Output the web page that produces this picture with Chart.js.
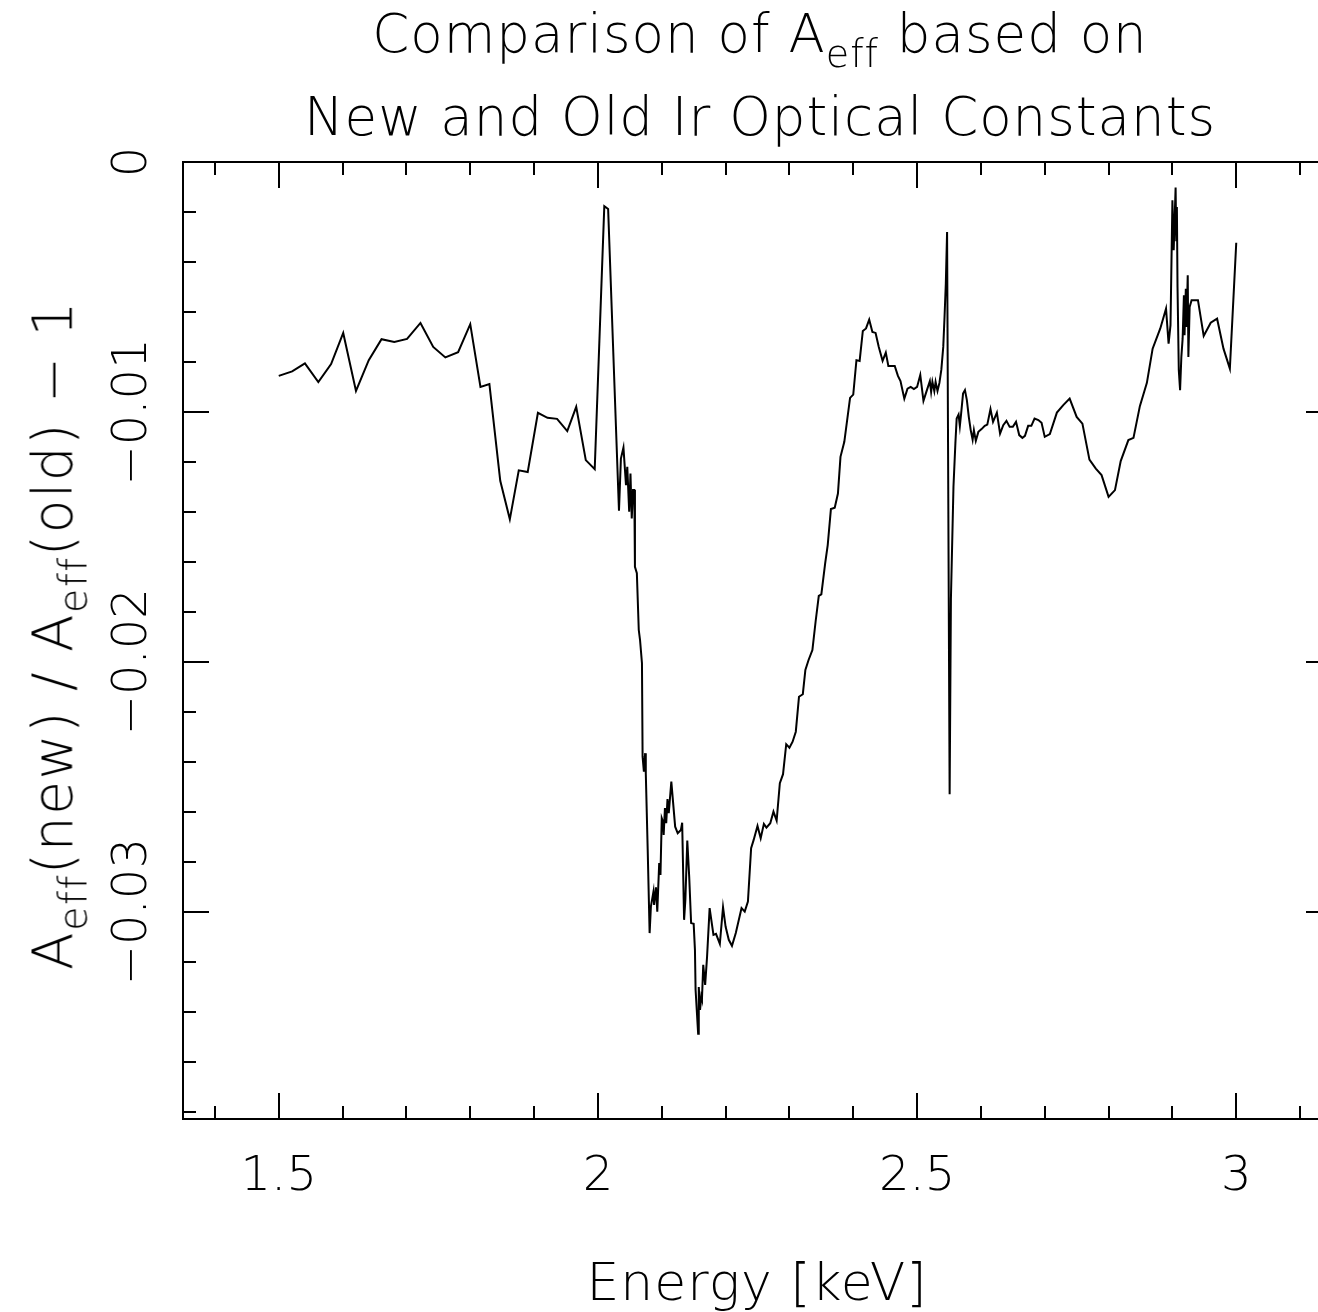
<!DOCTYPE html>
<html>
<head>
<meta charset="utf-8">
<script src="https://cdn.jsdelivr.net/npm/chart.js@4.4.1/dist/chart.umd.min.js"></script>
<style>
  html, body { margin: 0; padding: 0; background: #fff; }
  body { width: 1318px; height: 1312px; overflow: hidden; position: relative;
         font-family: "DejaVu Sans", sans-serif; font-weight: 200; color: #000; }
  #wrap { position: absolute; left: 0; top: 0; width: 1318px; height: 1312px; overflow: hidden; }
  .txt { position: absolute; white-space: nowrap; line-height: 1; }
  .txt sub { font-size: 72%; vertical-align: baseline; position: relative; top: 0.38em; }
  #title1, #title2 { left: 760px; transform: translateX(-50%); font-size: 53px; letter-spacing: 1px; }
  #title1 { top: 7px; }
  #title2 { top: 90px; }
  #xtitle { left: 757px; top: 1256px; transform: translateX(-50%); font-size: 52px; letter-spacing: 1px; }
  #ytitle { left: 53px; top: 635px; transform: translate(-50%, -50%) rotate(-90deg); font-size: 55px; letter-spacing: 1.5px; }
</style>
</head>
<body>
<div id="wrap">
  <canvas id="c" width="1340" height="1312"></canvas>
</div>
<div class="txt" id="title1">Comparison of A<sub>eff</sub> based on</div>
<div class="txt" id="title2">New and Old Ir Optical Constants</div>
<div class="txt" id="xtitle">Energy [keV]</div>
<div class="txt" id="ytitle">A<sub>eff</sub>(new) / A<sub>eff</sub>(old) − 1</div>
<script>
// energy in keV
const energy = [
  1.500, 1.521, 1.541, 1.562, 1.582, 1.601, 1.621, 1.641, 1.661, 1.681,
  1.701, 1.722, 1.742, 1.761, 1.781, 1.800, 1.816, 1.830, 1.847, 1.862,
  1.876, 1.890, 1.906, 1.921, 1.936, 1.952, 1.966, 1.981, 1.995, 2.010,
  2.016, 2.033, 2.036, 2.040, 2.044, 2.046, 2.049, 2.051, 2.053, 2.055,
  2.057, 2.058, 2.061, 2.064, 2.066, 2.069, 2.070, 2.072, 2.074, 2.075,
  2.078, 2.081, 2.083, 2.087, 2.088, 2.091, 2.093, 2.096, 2.098, 2.100,
  2.102, 2.103, 2.105, 2.107, 2.109, 2.111, 2.115, 2.121, 2.125, 2.130,
  2.132, 2.135, 2.137, 2.140, 2.143, 2.146, 2.150, 2.152, 2.153, 2.157,
  2.158, 2.160, 2.162, 2.163, 2.165, 2.168, 2.171, 2.175, 2.181, 2.185,
  2.191, 2.196, 2.200, 2.205, 2.210, 2.216, 2.225, 2.230, 2.235, 2.240,
  2.244, 2.250, 2.255, 2.260, 2.264, 2.270, 2.275, 2.280, 2.285, 2.290,
  2.295, 2.300, 2.305, 2.310, 2.315, 2.321, 2.325, 2.330, 2.336, 2.341,
  2.346, 2.350, 2.356, 2.360, 2.365, 2.371, 2.376, 2.380, 2.386, 2.395,
  2.400, 2.405, 2.410, 2.415, 2.420, 2.425, 2.430, 2.435, 2.440, 2.446,
  2.451, 2.455, 2.465, 2.470, 2.474, 2.480, 2.485, 2.490, 2.495, 2.500,
  2.505, 2.510, 2.515, 2.520, 2.522, 2.524, 2.527, 2.529, 2.532, 2.535,
  2.538, 2.541, 2.543, 2.545, 2.547, 2.551, 2.553, 2.557, 2.560, 2.562,
  2.565, 2.567, 2.569, 2.572, 2.575, 2.578, 2.581, 2.584, 2.587, 2.589,
  2.592, 2.596, 2.601, 2.606, 2.610, 2.615, 2.619, 2.625, 2.630, 2.635,
  2.640, 2.645, 2.650, 2.655, 2.660, 2.665, 2.669, 2.674, 2.679, 2.684,
  2.690, 2.695, 2.700, 2.708, 2.719, 2.729, 2.739, 2.750, 2.759, 2.770,
  2.780, 2.789, 2.800, 2.810, 2.819, 2.831, 2.839, 2.849, 2.860, 2.869,
  2.881, 2.890, 2.894, 2.897, 2.900, 2.902, 2.905, 2.906, 2.907, 2.908,
  2.910, 2.912, 2.914, 2.916, 2.918, 2.919, 2.921, 2.922, 2.924, 2.925,
  2.927, 2.930, 2.940, 2.949, 2.960, 2.970, 2.980, 2.990, 3.000
];

// Aeff(new)/Aeff(old) - 1
const ratio = [
  -0.00856, -0.00838, -0.00806, -0.00881, -0.00809, -0.00684, -0.00916, -0.00793, -0.00709, -0.00720,
  -0.00708, -0.00644, -0.00740, -0.00782, -0.00761, -0.00649, -0.00900, -0.00889, -0.01276, -0.01430,
  -0.01234, -0.01241, -0.01004, -0.01024, -0.01028, -0.01077, -0.00980, -0.01193, -0.01229, -0.00177,
  -0.00188, -0.01396, -0.01187, -0.01143, -0.01293, -0.01220, -0.01400, -0.01247, -0.01427, -0.01313,
  -0.01313, -0.01620, -0.01646, -0.01873, -0.01913, -0.02006, -0.02380, -0.02440, -0.02366, -0.02446,
  -0.02753, -0.03086, -0.02980, -0.02920, -0.02973, -0.02903, -0.03000, -0.02806, -0.02853, -0.02626,
  -0.02640, -0.02693, -0.02586, -0.02646, -0.02550, -0.02606, -0.02480, -0.02660, -0.02686, -0.02673,
  -0.02644, -0.03033, -0.02953, -0.02716, -0.02860, -0.03046, -0.03049, -0.03153, -0.03313, -0.03489,
  -0.03302, -0.03393, -0.03340, -0.03350, -0.03213, -0.03293, -0.03180, -0.02986, -0.03093, -0.03089,
  -0.03129, -0.02982, -0.03060, -0.03113, -0.03137, -0.03086, -0.02986, -0.03000, -0.02960, -0.02746,
  -0.02713, -0.02657, -0.02706, -0.02649, -0.02664, -0.02646, -0.02600, -0.02636, -0.02486, -0.02450,
  -0.02330, -0.02344, -0.02320, -0.02280, -0.02140, -0.02130, -0.02033, -0.01993, -0.01953, -0.01840,
  -0.01736, -0.01730, -0.01606, -0.01533, -0.01389, -0.01384, -0.01327, -0.01180, -0.01120, -0.00944,
  -0.00931, -0.00793, -0.00796, -0.00676, -0.00666, -0.00631, -0.00680, -0.00684, -0.00740, -0.00796,
  -0.00763, -0.00816, -0.00816, -0.00856, -0.00877, -0.00947, -0.00907, -0.00900, -0.00909, -0.00900,
  -0.00852, -0.00956, -0.00916, -0.00877, -0.00920, -0.00880, -0.00917, -0.00880, -0.00916, -0.00884,
  -0.00831, -0.00740, -0.00620, -0.00487, -0.00280, -0.02530, -0.01750, -0.01300, -0.01126, -0.01027,
  -0.01011, -0.01057, -0.01007, -0.00927, -0.00913, -0.00953, -0.01020, -0.01073, -0.01111, -0.01073,
  -0.01116, -0.01080, -0.01069, -0.01056, -0.01051, -0.00989, -0.01040, -0.01003, -0.01087, -0.01053,
  -0.01036, -0.01060, -0.01060, -0.01040, -0.01093, -0.01104, -0.01096, -0.01056, -0.01056, -0.01027,
  -0.01033, -0.01044, -0.01100, -0.01089, -0.01003, -0.00973, -0.00947, -0.01020, -0.01047, -0.01191,
  -0.01227, -0.01253, -0.01340, -0.01313, -0.01197, -0.01113, -0.01104, -0.00977, -0.00884, -0.00747,
  -0.00666, -0.00587, -0.00727, -0.00653, -0.00153, -0.00353, -0.00102, -0.00313, -0.00180, -0.00500,
  -0.00833, -0.00913, -0.00780, -0.00707, -0.00533, -0.00693, -0.00507, -0.00660, -0.00453, -0.00780,
  -0.00580, -0.00553, -0.00553, -0.00696, -0.00643, -0.00627, -0.00747, -0.00827, -0.00323
];

const xTicks = [1.5, 2, 2.5, 3];
const xTickLabels = ['1.5', '2', '2.5', '3'];
const yTicks = [0, -0.01, -0.02, -0.03];
const yTickLabels = ['0', '−0.01', '−0.02', '−0.03'];
const xMinorStep = 0.1;
const yMinorStep = 0.002;

const points = energy.map((e, i) => ({ x: e, y: ratio[i] }));

// pgplot style frame: box, inward ticks, rotated y labels
const framePlugin = {
  id: 'frame',
  afterDatasetsDraw(chart) {
    const ctx = chart.ctx;
    const { left, right, top, bottom } = chart.chartArea;
    const xs = chart.scales.x, ys = chart.scales.y;
    ctx.save();
    ctx.strokeStyle = '#000';
    ctx.lineWidth = 2;
    ctx.strokeRect(left, top, right - left, bottom - top);

    ctx.beginPath();
    for (let v = 1.4; v <= xs.max + 1e-9; v += xMinorStep) {
      const major = xTicks.some(t => Math.abs(t - v) < 1e-6);
      const len = major ? 26 : 13;
      const px = Math.round(xs.getPixelForValue(v));
      ctx.moveTo(px, bottom); ctx.lineTo(px, bottom - len);
      ctx.moveTo(px, top); ctx.lineTo(px, top + len);
    }
    for (let v = 0; v >= ys.min - 1e-9; v -= yMinorStep) {
      const major = yTicks.some(t => Math.abs(t - v) < 1e-7);
      const len = major ? 26 : 13;
      const py = Math.round(ys.getPixelForValue(v));
      ctx.moveTo(left, py); ctx.lineTo(left + len, py);
      ctx.moveTo(right, py); ctx.lineTo(right - len, py);
    }
    ctx.stroke();

    ctx.fillStyle = '#000';
    ctx.font = '200 48px "DejaVu Sans", sans-serif';
    ctx.textAlign = 'center';
    ctx.textBaseline = 'alphabetic';
    xTicks.forEach((v, i) => {
      ctx.fillText(xTickLabels[i], xs.getPixelForValue(v), 1190);
    });
    yTicks.forEach((v, i) => {
      ctx.save();
      ctx.translate(146, ys.getPixelForValue(v));
      ctx.rotate(-Math.PI / 2);
      ctx.fillText(yTickLabels[i], 0, 0);
      ctx.restore();
    });
    ctx.restore();
  }
};

new Chart(document.getElementById('c'), {
  type: 'line',
  data: {
    datasets: [{
      data: points,
      borderColor: '#000',
      borderWidth: 2,
      pointRadius: 0,
      tension: 0,
      fill: false
    }]
  },
  options: {
    responsive: false,
    animation: false,
    devicePixelRatio: 1,
    layout: { padding: { top: 162, right: 8, left: 0, bottom: 0 } },
    plugins: { legend: { display: false }, tooltip: { enabled: false } },
    scales: {
      x: {
        type: 'linear', min: 1.35, max: 3.15,
        grid: { display: false, drawTicks: false },
        border: { display: false },
        ticks: { display: false },
        afterFit: (s) => { s.height = 193; }
      },
      y: {
        type: 'linear', min: -0.0383, max: 0,
        grid: { display: false, drawTicks: false },
        border: { display: false },
        ticks: { display: false },
        afterFit: (s) => { s.width = 183; }
      }
    }
  },
  plugins: [framePlugin]
});
</script>
</body>
</html>
